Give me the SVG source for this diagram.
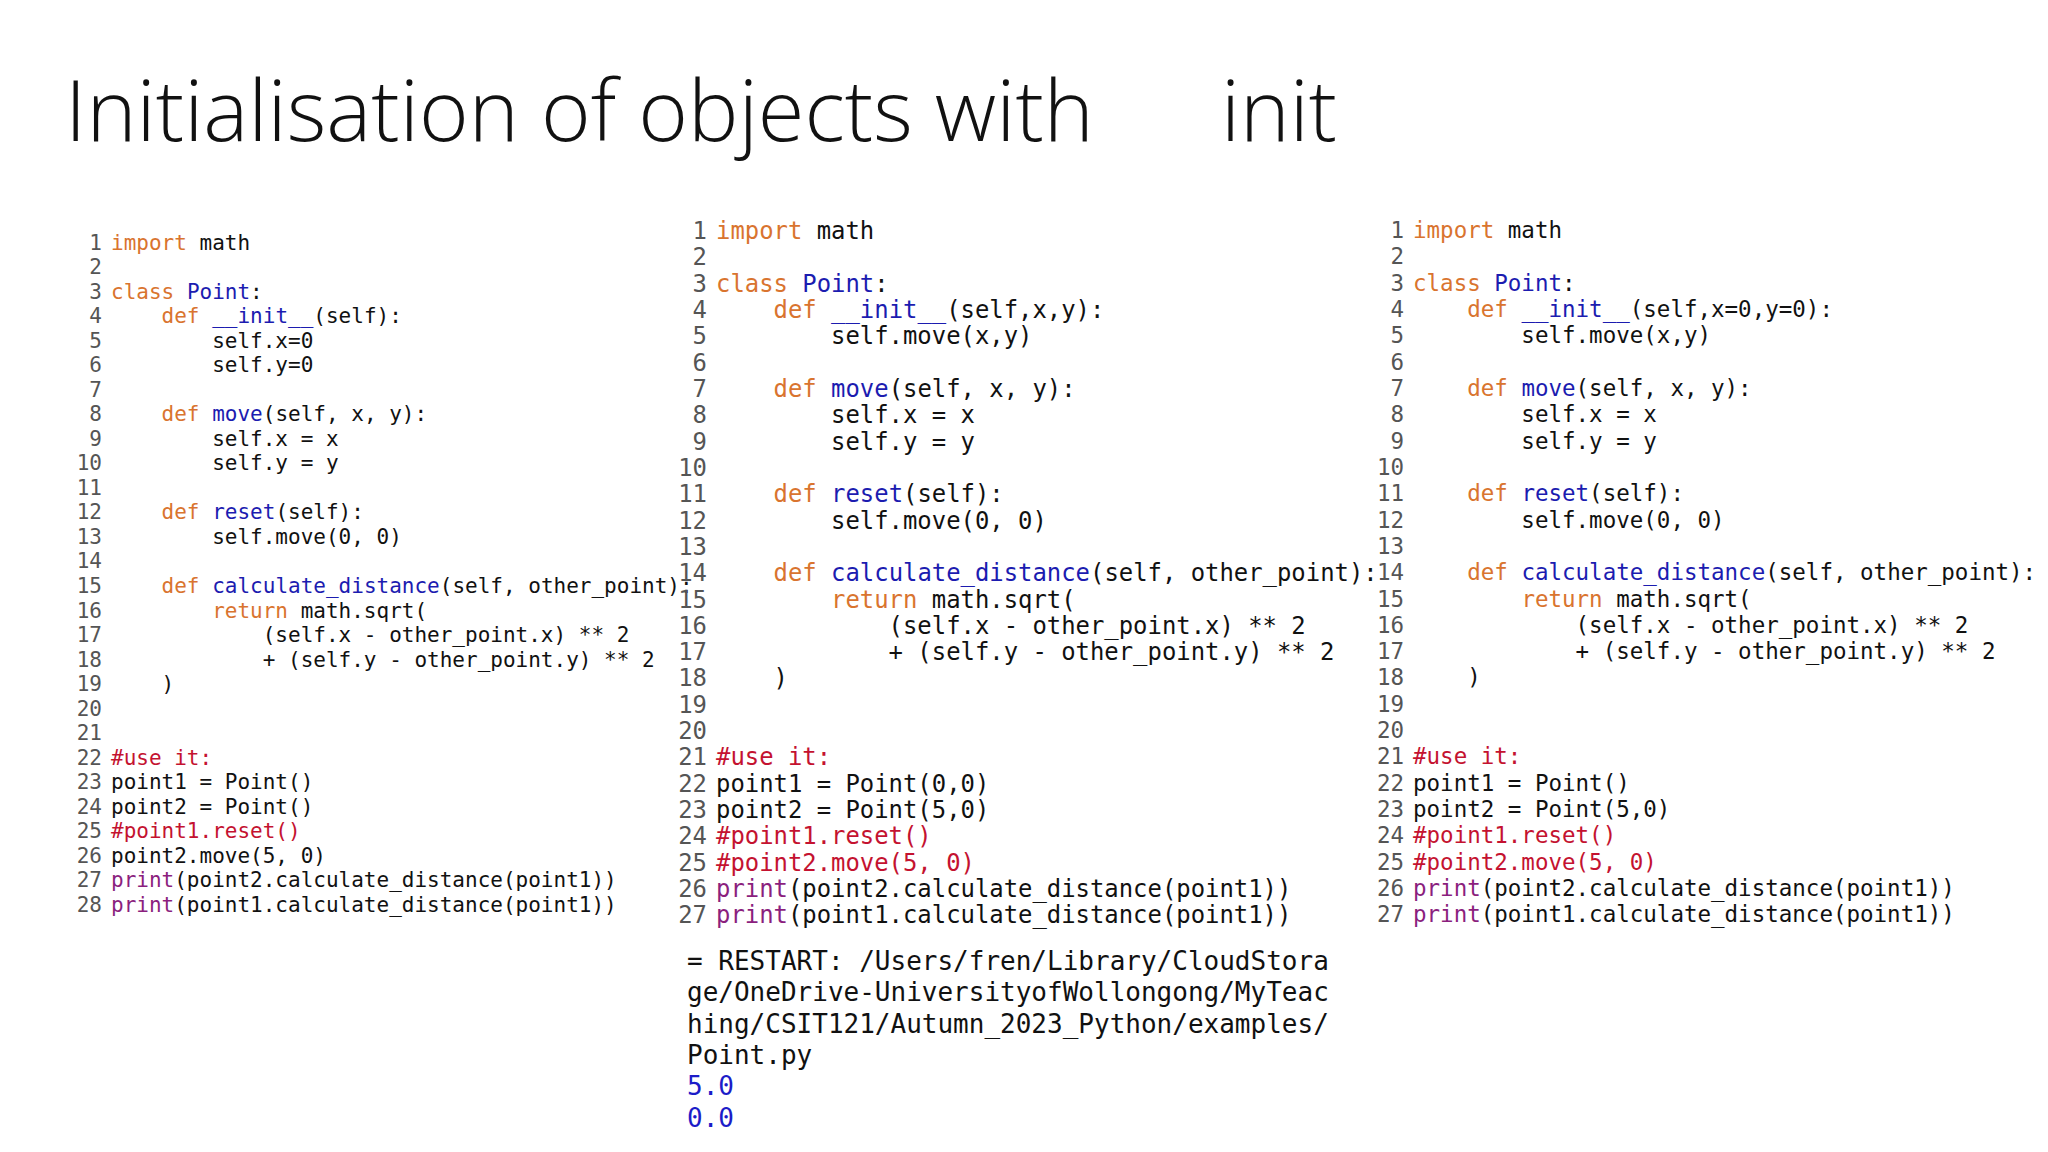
<svg xmlns="http://www.w3.org/2000/svg" width="2048" height="1152" viewBox="0 0 2048 1152">
<style>
.t{font-family:"Open Sans","Liberation Sans",sans-serif;font-size:84px;fill:#111;font-weight:300}
.m text{font-family:"DejaVu Sans Mono","Liberation Mono",monospace;fill:#111;white-space:pre}
.m .n{fill:#555;text-anchor:end}
.k{fill:#d9742f}.b{fill:#1c1cb0}.m .c{fill:#c41230}.p{fill:#8b1f7e}.m .o{fill:#1c1cc8}
.p1 text{font-size:21px}.p2 text{font-size:23.9px}.p3 text{font-size:22.5px}.out text{font-size:26px}
</style>
<rect width="2048" height="1152" fill="#fff"/>
<g id="title">
<text class="t" x="65" y="141" textLength="1029" lengthAdjust="spacingAndGlyphs">Initialisation of objects with</text>
<text class="t" x="1221" y="141" textLength="116" lengthAdjust="spacingAndGlyphs">init</text>
</g>
<g id="panel1" class="m p1">
<text class="n" x="102" y="249.5">1</text><text x="111" y="249.5"><tspan class="k">import</tspan> math</text>
<text class="n" x="102" y="274">2</text>
<text class="n" x="102" y="298.6">3</text><text x="111" y="298.6"><tspan class="k">class</tspan> <tspan class="b">Point</tspan>:</text>
<text class="n" x="102" y="323.1">4</text><text x="111" y="323.1">&#160;&#160;&#160;&#160;<tspan class="k">def</tspan> <tspan class="b">__init__</tspan>(self):</text>
<text class="n" x="102" y="347.6">5</text><text x="111" y="347.6">&#160;&#160;&#160;&#160;&#160;&#160;&#160;&#160;self.x=0</text>
<text class="n" x="102" y="372.2">6</text><text x="111" y="372.2">&#160;&#160;&#160;&#160;&#160;&#160;&#160;&#160;self.y=0</text>
<text class="n" x="102" y="396.7">7</text>
<text class="n" x="102" y="421.2">8</text><text x="111" y="421.2">&#160;&#160;&#160;&#160;<tspan class="k">def</tspan> <tspan class="b">move</tspan>(self, x, y):</text>
<text class="n" x="102" y="445.7">9</text><text x="111" y="445.7">&#160;&#160;&#160;&#160;&#160;&#160;&#160;&#160;self.x = x</text>
<text class="n" x="102" y="470.3">10</text><text x="111" y="470.3">&#160;&#160;&#160;&#160;&#160;&#160;&#160;&#160;self.y = y</text>
<text class="n" x="102" y="494.8">11</text>
<text class="n" x="102" y="519.3">12</text><text x="111" y="519.3">&#160;&#160;&#160;&#160;<tspan class="k">def</tspan> <tspan class="b">reset</tspan>(self):</text>
<text class="n" x="102" y="543.9">13</text><text x="111" y="543.9">&#160;&#160;&#160;&#160;&#160;&#160;&#160;&#160;self.move(0, 0)</text>
<text class="n" x="102" y="568.4">14</text>
<text class="n" x="102" y="592.9">15</text><text x="111" y="592.9">&#160;&#160;&#160;&#160;<tspan class="k">def</tspan> <tspan class="b">calculate_distance</tspan>(self, other_point):</text>
<text class="n" x="102" y="617.5">16</text><text x="111" y="617.5">&#160;&#160;&#160;&#160;&#160;&#160;&#160;&#160;<tspan class="k">return</tspan> math.sqrt(</text>
<text class="n" x="102" y="642">17</text><text x="111" y="642">&#160;&#160;&#160;&#160;&#160;&#160;&#160;&#160;&#160;&#160;&#160;&#160;(self.x - other_point.x) ** 2</text>
<text class="n" x="102" y="666.5">18</text><text x="111" y="666.5">&#160;&#160;&#160;&#160;&#160;&#160;&#160;&#160;&#160;&#160;&#160;&#160;+ (self.y - other_point.y) ** 2</text>
<text class="n" x="102" y="691">19</text><text x="111" y="691">&#160;&#160;&#160;&#160;)</text>
<text class="n" x="102" y="715.6">20</text>
<text class="n" x="102" y="740.1">21</text>
<text class="n" x="102" y="764.6">22</text><text x="111" y="764.6" class="c">#use it:</text>
<text class="n" x="102" y="789.2">23</text><text x="111" y="789.2">point1 = Point()</text>
<text class="n" x="102" y="813.7">24</text><text x="111" y="813.7">point2 = Point()</text>
<text class="n" x="102" y="838.2">25</text><text x="111" y="838.2" class="c">#point1.reset()</text>
<text class="n" x="102" y="862.8">26</text><text x="111" y="862.8">point2.move(5, 0)</text>
<text class="n" x="102" y="887.3">27</text><text x="111" y="887.3"><tspan class="p">print</tspan>(point2.calculate_distance(point1))</text>
<text class="n" x="102" y="911.8">28</text><text x="111" y="911.8"><tspan class="p">print</tspan>(point1.calculate_distance(point1))</text>
</g>
<g id="panel2" class="m p2">
<text class="n" x="707" y="239">1</text><text x="716" y="239"><tspan class="k">import</tspan> math</text>
<text class="n" x="707" y="265.3">2</text>
<text class="n" x="707" y="291.6">3</text><text x="716" y="291.6"><tspan class="k">class</tspan> <tspan class="b">Point</tspan>:</text>
<text class="n" x="707" y="318">4</text><text x="716" y="318">&#160;&#160;&#160;&#160;<tspan class="k">def</tspan> <tspan class="b">__init__</tspan>(self,x,y):</text>
<text class="n" x="707" y="344.3">5</text><text x="716" y="344.3">&#160;&#160;&#160;&#160;&#160;&#160;&#160;&#160;self.move(x,y)</text>
<text class="n" x="707" y="370.6">6</text>
<text class="n" x="707" y="396.9">7</text><text x="716" y="396.9">&#160;&#160;&#160;&#160;<tspan class="k">def</tspan> <tspan class="b">move</tspan>(self, x, y):</text>
<text class="n" x="707" y="423.2">8</text><text x="716" y="423.2">&#160;&#160;&#160;&#160;&#160;&#160;&#160;&#160;self.x = x</text>
<text class="n" x="707" y="449.6">9</text><text x="716" y="449.6">&#160;&#160;&#160;&#160;&#160;&#160;&#160;&#160;self.y = y</text>
<text class="n" x="707" y="475.9">10</text>
<text class="n" x="707" y="502.2">11</text><text x="716" y="502.2">&#160;&#160;&#160;&#160;<tspan class="k">def</tspan> <tspan class="b">reset</tspan>(self):</text>
<text class="n" x="707" y="528.5">12</text><text x="716" y="528.5">&#160;&#160;&#160;&#160;&#160;&#160;&#160;&#160;self.move(0, 0)</text>
<text class="n" x="707" y="554.8">13</text>
<text class="n" x="707" y="581.2">14</text><text x="716" y="581.2">&#160;&#160;&#160;&#160;<tspan class="k">def</tspan> <tspan class="b">calculate_distance</tspan>(self, other_point):</text>
<text class="n" x="707" y="607.5">15</text><text x="716" y="607.5">&#160;&#160;&#160;&#160;&#160;&#160;&#160;&#160;<tspan class="k">return</tspan> math.sqrt(</text>
<text class="n" x="707" y="633.8">16</text><text x="716" y="633.8">&#160;&#160;&#160;&#160;&#160;&#160;&#160;&#160;&#160;&#160;&#160;&#160;(self.x - other_point.x) ** 2</text>
<text class="n" x="707" y="660.1">17</text><text x="716" y="660.1">&#160;&#160;&#160;&#160;&#160;&#160;&#160;&#160;&#160;&#160;&#160;&#160;+ (self.y - other_point.y) ** 2</text>
<text class="n" x="707" y="686.4">18</text><text x="716" y="686.4">&#160;&#160;&#160;&#160;)</text>
<text class="n" x="707" y="712.8">19</text>
<text class="n" x="707" y="739.1">20</text>
<text class="n" x="707" y="765.4">21</text><text x="716" y="765.4" class="c">#use it:</text>
<text class="n" x="707" y="791.7">22</text><text x="716" y="791.7">point1 = Point(0,0)</text>
<text class="n" x="707" y="818">23</text><text x="716" y="818">point2 = Point(5,0)</text>
<text class="n" x="707" y="844.4">24</text><text x="716" y="844.4" class="c">#point1.reset()</text>
<text class="n" x="707" y="870.7">25</text><text x="716" y="870.7" class="c">#point2.move(5, 0)</text>
<text class="n" x="707" y="897">26</text><text x="716" y="897"><tspan class="p">print</tspan>(point2.calculate_distance(point1))</text>
<text class="n" x="707" y="923.3">27</text><text x="716" y="923.3"><tspan class="p">print</tspan>(point1.calculate_distance(point1))</text>
</g>
<g id="output" class="m out">
<text x="687" y="970">= RESTART: /Users/fren/Library/CloudStora</text>
<text x="687" y="1001.4">ge/OneDrive-UniversityofWollongong/MyTeac</text>
<text x="687" y="1032.7">hing/CSIT121/Autumn_2023_Python/examples/</text>
<text x="687" y="1064.1">Point.py</text>
<text x="687" y="1095.4" class="o">5.0</text>
<text x="687" y="1126.8" class="o">0.0</text>
</g>
<g id="panel3" class="m p3">
<text class="n" x="1404" y="238">1</text><text x="1413" y="238"><tspan class="k">import</tspan> math</text>
<text class="n" x="1404" y="264.3">2</text>
<text class="n" x="1404" y="290.6">3</text><text x="1413" y="290.6"><tspan class="k">class</tspan> <tspan class="b">Point</tspan>:</text>
<text class="n" x="1404" y="317">4</text><text x="1413" y="317">&#160;&#160;&#160;&#160;<tspan class="k">def</tspan> <tspan class="b">__init__</tspan>(self,x=0,y=0):</text>
<text class="n" x="1404" y="343.3">5</text><text x="1413" y="343.3">&#160;&#160;&#160;&#160;&#160;&#160;&#160;&#160;self.move(x,y)</text>
<text class="n" x="1404" y="369.6">6</text>
<text class="n" x="1404" y="395.9">7</text><text x="1413" y="395.9">&#160;&#160;&#160;&#160;<tspan class="k">def</tspan> <tspan class="b">move</tspan>(self, x, y):</text>
<text class="n" x="1404" y="422.2">8</text><text x="1413" y="422.2">&#160;&#160;&#160;&#160;&#160;&#160;&#160;&#160;self.x = x</text>
<text class="n" x="1404" y="448.6">9</text><text x="1413" y="448.6">&#160;&#160;&#160;&#160;&#160;&#160;&#160;&#160;self.y = y</text>
<text class="n" x="1404" y="474.9">10</text>
<text class="n" x="1404" y="501.2">11</text><text x="1413" y="501.2">&#160;&#160;&#160;&#160;<tspan class="k">def</tspan> <tspan class="b">reset</tspan>(self):</text>
<text class="n" x="1404" y="527.5">12</text><text x="1413" y="527.5">&#160;&#160;&#160;&#160;&#160;&#160;&#160;&#160;self.move(0, 0)</text>
<text class="n" x="1404" y="553.8">13</text>
<text class="n" x="1404" y="580.2">14</text><text x="1413" y="580.2">&#160;&#160;&#160;&#160;<tspan class="k">def</tspan> <tspan class="b">calculate_distance</tspan>(self, other_point):</text>
<text class="n" x="1404" y="606.5">15</text><text x="1413" y="606.5">&#160;&#160;&#160;&#160;&#160;&#160;&#160;&#160;<tspan class="k">return</tspan> math.sqrt(</text>
<text class="n" x="1404" y="632.8">16</text><text x="1413" y="632.8">&#160;&#160;&#160;&#160;&#160;&#160;&#160;&#160;&#160;&#160;&#160;&#160;(self.x - other_point.x) ** 2</text>
<text class="n" x="1404" y="659.1">17</text><text x="1413" y="659.1">&#160;&#160;&#160;&#160;&#160;&#160;&#160;&#160;&#160;&#160;&#160;&#160;+ (self.y - other_point.y) ** 2</text>
<text class="n" x="1404" y="685.4">18</text><text x="1413" y="685.4">&#160;&#160;&#160;&#160;)</text>
<text class="n" x="1404" y="711.8">19</text>
<text class="n" x="1404" y="738.1">20</text>
<text class="n" x="1404" y="764.4">21</text><text x="1413" y="764.4" class="c">#use it:</text>
<text class="n" x="1404" y="790.7">22</text><text x="1413" y="790.7">point1 = Point()</text>
<text class="n" x="1404" y="817">23</text><text x="1413" y="817">point2 = Point(5,0)</text>
<text class="n" x="1404" y="843.4">24</text><text x="1413" y="843.4" class="c">#point1.reset()</text>
<text class="n" x="1404" y="869.7">25</text><text x="1413" y="869.7" class="c">#point2.move(5, 0)</text>
<text class="n" x="1404" y="896">26</text><text x="1413" y="896"><tspan class="p">print</tspan>(point2.calculate_distance(point1))</text>
<text class="n" x="1404" y="922.3">27</text><text x="1413" y="922.3"><tspan class="p">print</tspan>(point1.calculate_distance(point1))</text>
</g>
</svg>
